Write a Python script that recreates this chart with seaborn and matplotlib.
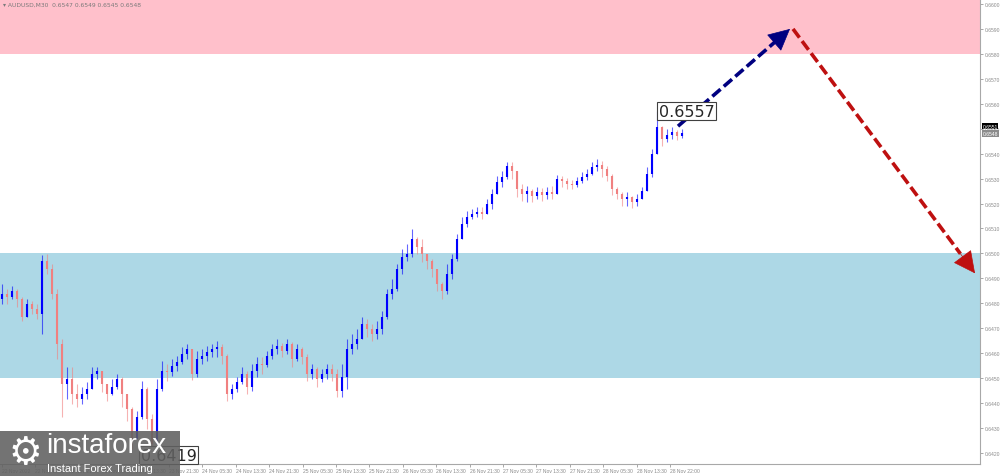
import numpy as np
import pandas as pd
import seaborn as sns
import matplotlib
matplotlib.use('Agg')
import matplotlib.pyplot as plt
from matplotlib.patches import Rectangle

# AUDUSD M30 (resampled, one bar every ~5 px of the original)
first_open = 0.64817
close = [0.64837, 0.64825, 0.64849, 0.64817, 0.64745, 0.64797, 0.64777, 0.64757,
         0.64970, 0.64938, 0.64837, 0.64637, 0.64476, 0.64496, 0.64436, 0.64416,
         0.64436, 0.64456, 0.64516, 0.64528, 0.64476, 0.64436, 0.64464, 0.64496,
         0.64436, 0.64376, 0.64256, 0.64344, 0.64456, 0.64336, 0.64236, 0.64456,
         0.64528, 0.64524, 0.64548, 0.64564, 0.64597, 0.64617, 0.64516, 0.64576,
         0.64588, 0.64605, 0.64617, 0.64625, 0.64588, 0.64436, 0.64456, 0.64484,
         0.64516, 0.64464, 0.64528, 0.64556, 0.64552, 0.64588, 0.64617, 0.64629,
         0.64609, 0.64637, 0.64576, 0.64617, 0.64584, 0.64516, 0.64536, 0.64496,
         0.64516, 0.64536, 0.64516, 0.64448, 0.64504, 0.64617, 0.64637, 0.64657,
         0.64717, 0.64697, 0.64677, 0.64697, 0.64745, 0.64837, 0.64857, 0.64938,
         0.64986, 0.64998, 0.65058, 0.65026, 0.64998, 0.64970, 0.64938, 0.64877,
         0.64849, 0.64917, 0.64978, 0.65058, 0.65118, 0.65146, 0.65158, 0.65166,
         0.65158, 0.65198, 0.65238, 0.65286, 0.65306, 0.65350, 0.65330, 0.65258,
         0.65238, 0.65250, 0.65230, 0.65246, 0.65234, 0.65246, 0.65238, 0.65298,
         0.65290, 0.65278, 0.65274, 0.65290, 0.65306, 0.65318, 0.65346, 0.65354,
         0.65338, 0.65310, 0.65258, 0.65238, 0.65218, 0.65226, 0.65206, 0.65218,
         0.65250, 0.65318, 0.65398, 0.65507, 0.65459, 0.65475, 0.65487, 0.65471,
         0.65483]
high = [0.64877, 0.64857, 0.64869, 0.64857, 0.64825, 0.64817, 0.64809, 0.64797,
        0.64994, 0.64998, 0.64958, 0.64857, 0.64657, 0.64544, 0.64544, 0.64476,
        0.64464, 0.64484, 0.64544, 0.64544, 0.64528, 0.64476, 0.64496, 0.64516,
        0.64504, 0.64436, 0.64384, 0.64368, 0.64488, 0.64464, 0.64356, 0.64496,
        0.64568, 0.64556, 0.64576, 0.64588, 0.64625, 0.64637, 0.64617, 0.64609,
        0.64617, 0.64629, 0.64637, 0.64649, 0.64637, 0.64597, 0.64476, 0.64504,
        0.64544, 0.64528, 0.64556, 0.64584, 0.64584, 0.64609, 0.64637, 0.64657,
        0.64641, 0.64657, 0.64645, 0.64637, 0.64625, 0.64597, 0.64556, 0.64544,
        0.64536, 0.64556, 0.64556, 0.64536, 0.64556, 0.64657, 0.64677, 0.64697,
        0.64745, 0.64737, 0.64717, 0.64729, 0.64769, 0.64857, 0.64897, 0.64958,
        0.65018, 0.65038, 0.65098, 0.65066, 0.65058, 0.64998, 0.64978, 0.64929,
        0.64885, 0.64958, 0.64998, 0.65078, 0.65146, 0.65170, 0.65178, 0.65186,
        0.65186, 0.65218, 0.65258, 0.65310, 0.65330, 0.65366, 0.65366, 0.65318,
        0.65278, 0.65270, 0.65258, 0.65266, 0.65262, 0.65266, 0.65270, 0.65314,
        0.65310, 0.65302, 0.65294, 0.65306, 0.65326, 0.65338, 0.65366, 0.65378,
        0.65370, 0.65350, 0.65318, 0.65266, 0.65246, 0.65246, 0.65230, 0.65238,
        0.65266, 0.65346, 0.65419, 0.65571, 0.65511, 0.65499, 0.65507, 0.65495,
        0.65499]
low = [0.64797, 0.64797, 0.64817, 0.64785, 0.64729, 0.64745, 0.64757, 0.64737,
       0.64677, 0.64917, 0.64817, 0.64576, 0.64344, 0.64416, 0.64396, 0.64384,
       0.64396, 0.64416, 0.64456, 0.64496, 0.64444, 0.64408, 0.64432, 0.64456,
       0.64384, 0.64328, 0.64216, 0.64256, 0.64336, 0.64296, 0.64192, 0.64228,
       0.64448, 0.64488, 0.64508, 0.64528, 0.64556, 0.64576, 0.64492, 0.64504,
       0.64556, 0.64568, 0.64584, 0.64584, 0.64556, 0.64408, 0.64416, 0.64444,
       0.64476, 0.64436, 0.64448, 0.64504, 0.64516, 0.64544, 0.64576, 0.64597,
       0.64584, 0.64597, 0.64544, 0.64568, 0.64556, 0.64488, 0.64496, 0.64464,
       0.64484, 0.64496, 0.64488, 0.64424, 0.64424, 0.64456, 0.64597, 0.64617,
       0.64657, 0.64665, 0.64649, 0.64657, 0.64677, 0.64737, 0.64817, 0.64849,
       0.64917, 0.64970, 0.64986, 0.64998, 0.64966, 0.64938, 0.64905, 0.64849,
       0.64817, 0.64837, 0.64897, 0.64970, 0.65058, 0.65106, 0.65138, 0.65146,
       0.65138, 0.65158, 0.65178, 0.65238, 0.65266, 0.65298, 0.65298, 0.65226,
       0.65210, 0.65206, 0.65206, 0.65218, 0.65210, 0.65218, 0.65218, 0.65238,
       0.65266, 0.65258, 0.65258, 0.65266, 0.65282, 0.65294, 0.65314, 0.65330,
       0.65306, 0.65290, 0.65234, 0.65218, 0.65190, 0.65190, 0.65182, 0.65190,
       0.65218, 0.65250, 0.65306, 0.65419, 0.65431, 0.65447, 0.65459, 0.65455,
       0.65463]

time_labels = ["22 Nov 2022", "22 Nov 13:30", "22 Nov 21:30", "23 Nov 05:30",
               "23 Nov 13:30", "23 Nov 21:30", "24 Nov 05:30", "24 Nov 13:30",
               "24 Nov 21:30", "25 Nov 05:30", "25 Nov 13:30", "25 Nov 21:30",
               "26 Nov 05:30", "26 Nov 13:30", "26 Nov 21:30", "27 Nov 05:30",
               "27 Nov 13:30", "27 Nov 21:30", "28 Nov 05:30", "28 Nov 13:30",
               "28 Nov 22:00"]

# zones and forecast path
resistance_zone = (0.6580, 0.6602)
support_zone = (0.6450, 0.6500)
up_leg_x, up_leg_y = [135.2, 157.6], [0.6551, 0.6590]
down_leg_x, down_leg_y = [158.2, 194.6], [0.6590, 0.6492]
peak_label, trough_label = 0.6557, 0.6419
bid, ask = 0.6548, 0.6551

df = pd.DataFrame({"close": close, "high": high, "low": low})
df["open"] = [first_open] + close[:-1]
df["high"] = df[["high", "open", "close"]].max(axis=1)
df["low"] = df[["low", "open", "close"]].min(axis=1)
df["bar"] = np.arange(len(df))
df["up"] = df["close"] >= df["open"]

sns.set_theme(style="white")
plt.rcParams['font.family'] = ['DejaVu Sans']

fig = plt.figure(figsize=(10, 4.77), dpi=100)
ax = fig.add_axes([0, 12 / 477, 0.98, 465 / 477])

ax.axhspan(*resistance_zone, color="#FFC0CB", lw=0, zorder=0)
ax.axhspan(*support_zone, color="#ADD8E6", lw=0, zorder=0)

colors = {True: "#0000FF", False: "#F08080"}
for is_up, grp in df.groupby("up"):
    c = colors[is_up]
    ax.vlines(grp["bar"], grp["low"], grp["high"], colors=c, lw=0.8,
              alpha=0.6, zorder=2)
    ax.vlines(grp["bar"], grp["open"], grp["close"], colors=c, lw=1.5,
              zorder=3)

# forecast arrows (dashed shafts + solid heads)
for xs, ys, col in [(up_leg_x, up_leg_y, "#000080"),
                    (down_leg_x, down_leg_y, "#BE1010")]:
    t = 0.92
    xm = xs[0] + (xs[1] - xs[0]) * t
    ym = ys[0] + (ys[1] - ys[0]) * t
    ax.plot([xs[0], xm], [ys[0], ym], color=col, lw=2.6, ls=(0, (3, 1.2)),
            zorder=5, solid_capstyle="butt", dash_capstyle="butt")
    ax.annotate("", xy=(xs[1], ys[1]), xytext=(xm, ym), zorder=6,
                arrowprops=dict(arrowstyle="-|>,head_length=0.9,head_width=0.45",
                                color=col, lw=0.5, mutation_scale=16,
                                shrinkA=0, shrinkB=0))

box = dict(boxstyle="square,pad=0.1", fc="white", ec="#404040", lw=0.8)
peak_bar = df["high"].idxmax()
ax.text(peak_bar + 0.3, peak_label, f"{peak_label:.4f}", fontsize=11.5,
        ha="left", va="center", bbox=box, zorder=7)
low_bar = df["low"].idxmin()
ax.text(low_bar - 2.2, trough_label, f"{trough_label:.4f}", fontsize=11.5,
        ha="left", va="center", bbox=box, zorder=7)

ax.set_xlim(-0.4, 195.6)
ax.set_ylim(0.641555, 0.66020)

ax.yaxis.tick_right()
yt = np.arange(0.6420, 0.66005, 0.001)
ax.set_yticks(yt)
ax.set_yticklabels([f"{v:.4f}" for v in yt], family="Liberation Sans")
step = 33.4 / 5
ax.set_xticks(np.arange(len(time_labels)) * step)
ax.set_xticklabels(time_labels, ha="left", family="Liberation Sans")
ax.tick_params(axis="both", labelsize=3.6, colors="#9A9A9A", length=2,
               width=0.6, pad=1.2, direction="out", labelcolor="#8A8A8A")
ax.tick_params(axis="y", right=True, left=False)
ax.tick_params(axis="x", bottom=True)

for side in ["top", "left"]:
    ax.spines[side].set_visible(False)
for side in ["right", "bottom"]:
    ax.spines[side].set_color("#A8A8A8")
    ax.spines[side].set_linewidth(0.8)

# current price tags on the right axis
for price, fc in [(ask, "#000000"), (bid, "#8C8C8C")]:
    ax.text(1.0025, price, f"{price:.4f}", transform=ax.get_yaxis_transform(),
            fontsize=3.6, color="white", ha="left", va="center",
            family="Liberation Sans",
            bbox=dict(boxstyle="square,pad=0.15", fc=fc, ec="none"),
            zorder=8, clip_on=False)

fig.text(0.003, 0.988, "\u25be AUDUSD,M30  0.6547 0.6549 0.6545 0.6548",
         fontsize=4.3, color="#7A7A7A", ha="left", va="center")

# watermark logo
fig.patches.append(Rectangle((0, 0), 0.18, 45 / 477, transform=fig.transFigure,
                             fc="#606060", ec="none", alpha=0.88, zorder=10))
fig.text(0.025, 0.048, "\u2699", fontsize=27, color="white", ha="center",
         va="center", zorder=11)
fig.text(0.046, 0.064, "instaforex", fontsize=20, color="white", ha="left",
         va="center", family=["Liberation Sans", "DejaVu Sans"], zorder=11)
fig.text(0.047, 0.016, "Instant Forex Trading", fontsize=8, color="white",
         ha="left", va="center", family=["Liberation Sans", "DejaVu Sans"],
         zorder=11)

fig.savefig("out.png", dpi=100)
